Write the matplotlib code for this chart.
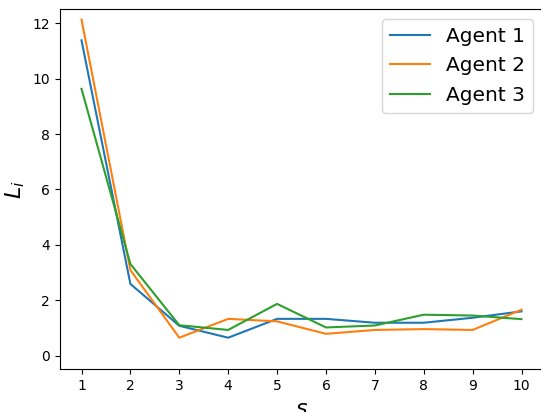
import matplotlib
matplotlib.use("Agg")
import matplotlib.pyplot as plt

s = [1, 2, 3, 4, 5, 6, 7, 8, 9, 10]
agent1 = [11.38, 2.59, 1.08, 0.65, 1.33, 1.33, 1.19, 1.19, 1.37, 1.60]
agent2 = [12.13, 3.09, 0.65, 1.33, 1.24, 0.79, 0.93, 0.96, 0.93, 1.66]
agent3 = [9.63, 3.31, 1.10, 0.93, 1.87, 1.02, 1.09, 1.48, 1.45, 1.32]
labels = ["Agent 1", "Agent 2", "Agent 3"]

fig = plt.figure(figsize=(5.41, 4.12), dpi=100)
ax = fig.add_axes([59.5/541, 42.7/412, 484/541, 360/412])
for vals, lab in zip([agent1, agent2, agent3], labels):
    ax.plot(s, vals, label=lab)
ax.set_xticks(s)
ax.set_ylim(-0.49, 12.5)
ax.set_xlabel("$s$", fontsize=16)
ax.set_ylabel("$L_i$", fontsize=16)
ax.legend(fontsize=14.5, loc="upper right")
fig.savefig("out.png", dpi=100)
